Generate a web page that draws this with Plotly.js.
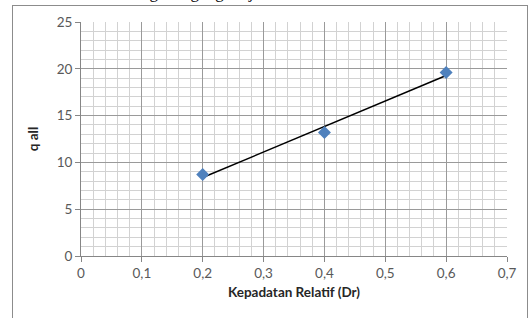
<!DOCTYPE html>
<html>
<head>
<meta charset="utf-8">
<script src="https://cdn.plot.ly/plotly-3.0.1.min.js"></script>
<style>
html,body{margin:0;padding:0;background:#fff;}
#wrap{position:relative;width:532px;height:318px;overflow:hidden;}
#chart{position:absolute;left:0;top:0;width:532px;height:318px;}
#frame{position:absolute;left:12px;top:5px;width:514px;height:330px;border:1px solid #8c8c8c;pointer-events:none;}
#toptext{position:absolute;left:125px;top:-17px;font-family:"Liberation Serif",serif;font-size:17px;color:#000;white-space:nowrap;}
</style>
</head>
<body>
<div id="wrap">
<div id="chart"></div>
<div id="frame"></div>
<div id="toptext">dengan tegangan ijin</div>
</div>
<script>
var dr = [0.2, 0.4, 0.6];
var qall = [8.7, 13.2, 19.6];
var xTitle = 'Kepadatan Relatif (Dr)';
var yTitle = 'q all';

// linear least-squares trendline (as Excel's linear trendline)
var n = dr.length, sx = 0, sy = 0, sxx = 0, sxy = 0;
for (var i = 0; i < n; i++) { sx += dr[i]; sy += qall[i]; sxx += dr[i]*dr[i]; sxy += dr[i]*qall[i]; }
var slope = (n*sxy - sx*sy) / (n*sxx - sx*sx);
var icpt = (sy - slope*sx) / n;
var trendX = [dr[0], dr[n-1]];
var trendY = trendX.map(function(x){ return icpt + slope*x; });

var traces = [
  {x: trendX, y: trendY, mode: 'lines', type: 'scatter',
   line: {color: '#000000', width: 1.5}, hoverinfo: 'skip', showlegend: false},
  {x: dr, y: qall, mode: 'markers', type: 'scatter',
   marker: {symbol: 'diamond', color: '#4F81BD', size: 10, line: {width: 0}}, showlegend: false}
];

var tickFont = {family: 'Lato, "Open Sans", sans-serif', size: 13.5, color: '#595959'};
var titleFont = {family: 'Lato, "Open Sans", sans-serif', size: 13.5, color: '#262626', weight: 'bold'};

var layout = {
  width: 532, height: 318,
  margin: {l: 81, r: 25, t: 22, b: 62},
  paper_bgcolor: '#ffffff', plot_bgcolor: '#ffffff',
  separators: ',.',
  showlegend: false,
  xaxis: {
    range: [0, 0.7], dtick: 0.1, tick0: 0,
    showgrid: true, gridcolor: '#9a9a9a', gridwidth: 1,
    minor: {dtick: 0.02, showgrid: true, gridcolor: '#d2d2d2', gridwidth: 1},
    zeroline: false,
    showline: true, linecolor: '#868686', linewidth: 1,
    ticks: 'outside', ticklen: 5, tickcolor: '#868686',
    tickfont: tickFont,
    title: {text: '<b>' + xTitle + '</b>', font: titleFont, standoff: 7}
  },
  yaxis: {
    range: [0, 25], dtick: 5, tick0: 0,
    showgrid: true, gridcolor: '#9a9a9a', gridwidth: 1,
    minor: {dtick: 1, showgrid: true, gridcolor: '#d2d2d2', gridwidth: 1},
    zeroline: false,
    showline: true, linecolor: '#868686', linewidth: 1,
    ticks: 'outside', ticklen: 5, tickcolor: '#868686',
    tickfont: tickFont,
    title: {text: '<b>' + yTitle + '</b>', font: titleFont, standoff: 14}
  }
};

Plotly.newPlot('chart', traces, layout, {displayModeBar: false, staticPlot: true});
</script>
</body>
</html>
